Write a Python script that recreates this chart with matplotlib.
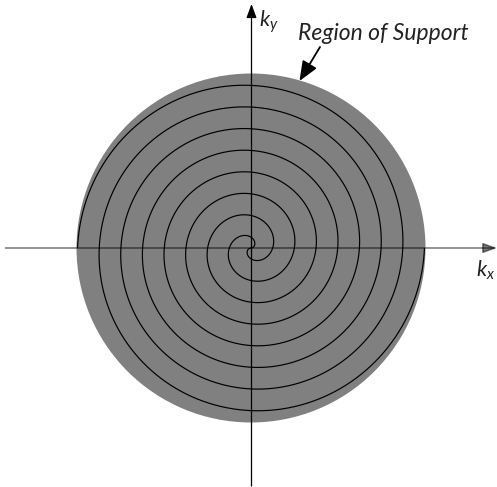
import numpy as np
import matplotlib
matplotlib.use("Agg")
import matplotlib.pyplot as plt
from matplotlib.patches import Circle

# ---- Data ----
# k-space region of support (normalised k_max = 1) and the spiral trajectory
support_radius = 1.0
spiral_max_radius = 0.994          # outer end of each arm (just inside the disc)
turns_per_arm = 4                  # each interleave winds 4 times
arm_offsets_deg = [0, 180]         # two interleaved arms, point-symmetric
axis_labels = ["k_y", "k_x"]
annotation_text = "Region of Support"

# ---- Styling ----
plt.rcParams.update({
    'font.family': 'Lato',
    'mathtext.fontset': 'custom',
    'mathtext.it': 'Lato:italic',
    'mathtext.rm': 'Lato',
})

W, H = 497, 487
CX, CY, SCALE = 251.0, 248.0, 174.5   # pixel centre and pixels per unit k


def px(x, y):
    """pixel coords (origin top-left) -> data coords"""
    return (x - CX) / SCALE, (CY - y) / SCALE


fig = plt.figure(figsize=(W / 100, H / 100), dpi=100)
ax = fig.add_axes([0, 0, 1, 1])
ax.set_xlim(px(0, 0)[0], px(W, 0)[0])
ax.set_ylim(px(0, H)[1], px(0, 0)[1])
ax.set_aspect('equal')
ax.axis('off')

# region of support
ax.add_patch(Circle((0, 0), support_radius, facecolor='#808080',
                    edgecolor='none', zorder=1))

# interleaved Archimedean spiral arms
theta = np.linspace(0, 2 * np.pi * turns_per_arm, 2000)
r = spiral_max_radius * theta / theta[-1]
for off in arm_offsets_deg:
    phi = theta + np.deg2rad(off)
    ax.plot(r * np.cos(phi), r * np.sin(phi), color='black', lw=0.85,
            zorder=3, solid_capstyle='butt')

# axes with arrow heads
axis_arrow = dict(arrowstyle='-|>,head_length=0.6,head_width=0.22',
                  mutation_scale=14, shrinkA=0, shrinkB=0)
ax.annotate('', xy=px(497, CY), xytext=px(5.5, CY),
            arrowprops=dict(color='black', alpha=0.5, lw=1.2, **axis_arrow),
            zorder=2)
ax.annotate('', xy=px(251.5, 4), xytext=px(251.5, 486),
            arrowprops=dict(color='black', lw=0.9, **axis_arrow), zorder=4)

# labels
ax.text(*px(259, 27), r'$' + axis_labels[0] + '$', fontsize=15.5,
        ha='left', va='baseline', color='#222222')
ax.text(*px(476, 277), r'$' + axis_labels[1] + '$', fontsize=15.5,
        ha='left', va='baseline', color='#222222')
ax.text(*px(298, 40), annotation_text, fontsize=16.5, fontstyle='italic',
        ha='left', va='baseline', color='#222222')

# pointer to the disc edge
ax.annotate('', xy=px(299.5, 81), xytext=px(320, 47),
            arrowprops=dict(arrowstyle='-|>,head_length=0.8,head_width=0.33',
                            mutation_scale=15, shrinkA=0, shrinkB=0,
                            color='black', lw=1.3),
            zorder=5)

fig.savefig('out.png', dpi=100)
